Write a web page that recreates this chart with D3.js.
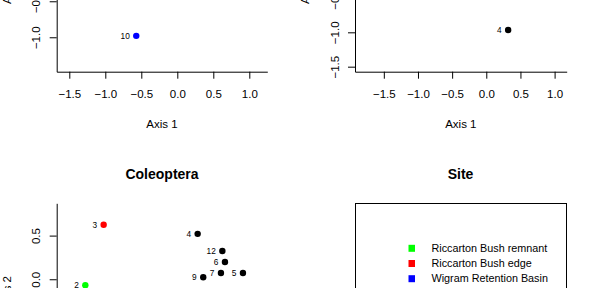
<!DOCTYPE html>
<html>
<head>
<meta charset="utf-8">
<script src="https://cdn.jsdelivr.net/npm/d3@7"></script>
<style>
body { margin: 0; background: #fff; }
svg { display: block; }
text { font-family: "Liberation Sans", Arial, sans-serif; }
</style>
</head>
<body>
<svg width="593" height="288"></svg>
<script>
// panel A (top left) - only the lowest site shows
var labelsA = ["10"];
var axis1A = [-0.57];
var axis2A = [-0.98];
var siteA = ["Wigram Retention Basin"];

// panel B (top right)
var labelsB = ["4"];
var axis1B = [0.32];
var axis2B = [-0.966];
var siteB = ["other"];

// Coleoptera (bottom left)
var labelsC = ["3", "4", "12", "6", "7", "5", "9", "2"];
var axis1C = [-0.76, 0.317, 0.60, 0.63, 0.584, 0.836, 0.381, -0.97];
var axis2C = [0.625, 0.52, 0.324, 0.198, 0.072, 0.072, 0.023, -0.069];
var siteC = ["Riccarton Bush edge", "other", "other", "other", "other", "other", "other", "Riccarton Bush remnant"];

var xTicks = [-1.5, -1, -0.5, 0, 0.5, 1];
var yTicks = [-1.5, -1, -0.5, 0, 0.5];

var siteNames = ["Riccarton Bush remnant", "Riccarton Bush edge", "Wigram Retention Basin"];
var siteColours = ["#00ff00", "#ff0000", "#0000ff"];

var colour = d3.scaleOrdinal().domain(siteNames).range(siteColours).unknown("#000");
var fmt = d3.format(".1f");

var svg = d3.select("svg");

// draw one ordination panel: L shaped box, ticks, labels, points
function drawPanel(x, y, labels, ax1, ax2, sites, title, showX){
    var g = svg.append("g");
    var xr = x.range(), yr = y.range();

    var xa = g.append("g")
        .attr("transform", "translate(0," + yr[0] + ")")
        .call(d3.axisBottom(x).tickValues(xTicks).tickFormat(fmt).tickSize(7).tickSizeOuter(0).tickPadding(11));
    var ya = g.append("g")
        .attr("transform", "translate(" + xr[0] + ",0)")
        .call(d3.axisLeft(y).tickValues(yTicks.filter(function(t){ return t >= y.domain()[0]; }))
              .tickFormat(fmt).tickSize(7).tickSizeOuter(0));

    [xa, ya].forEach(function(a){
        a.attr("font-family", null).attr("font-size", null);
        a.selectAll("path, line").attr("stroke", "#000").attr("stroke-width", 1);
        a.selectAll("text").attr("fill", "#000").style("font-size", "11.5px");
    });
    ya.selectAll("text")
        .attr("transform", "rotate(-90)")
        .attr("x", 0).attr("y", -16.5).attr("dy", 0)
        .attr("text-anchor", "middle");

    if(showX){
        g.append("text")
            .attr("x", (xr[0] + xr[1]) / 2).attr("y", yr[0] + 55.8)
            .attr("text-anchor", "middle").style("font-size", "11.5px")
            .text("Axis 1");
    }
    g.append("text")
        .attr("transform", "translate(" + (xr[0] - 46) + "," + (yr[0] + yr[1]) / 2 + ")rotate(-90)")
        .attr("text-anchor", "middle").style("font-size", "11.5px")
        .text("Axis 2");

    if(title){
        g.append("text")
            .attr("x", (xr[0] + xr[1]) / 2).attr("y", yr[1] - 24.5)
            .attr("text-anchor", "middle").style("font-size", "14px").style("font-weight", "bold")
            .text(title);
    }

    var idx = d3.range(labels.length);
    g.selectAll(".pt").data(idx).enter().append("circle")
        .attr("class", "pt")
        .attr("cx", function(i){ return x(ax1[i]); })
        .attr("cy", function(i){ return y(ax2[i]); })
        .attr("r", 3.2)
        .attr("fill", function(i){ return colour(sites[i]); });
    g.selectAll(".lab").data(idx).enter().append("text")
        .attr("class", "lab")
        .attr("x", function(i){ return x(ax1[i]) - 6.5; })
        .attr("y", function(i){ return y(ax2[i]); })
        .attr("dy", "0.35em")
        .attr("text-anchor", "end")
        .style("font-size", "8.3px")
        .text(function(i){ return labels[i]; });
}

// panel scales (plots are bigger than the window, only a part shows)
var xA = d3.scaleLinear().domain([-1.675, 1.25]).range([56.7, 267.3]);
var yA = d3.scaleLinear().domain([-1.478, 0.837]).range([71.7, -95]);
drawPanel(xA, yA, labelsA, axis1A, axis2A, siteA, null, true);

var xB = d3.scaleLinear().domain([-1.922, 1.177]).range([355, 566.7]);
var yB = d3.scaleLinear().domain([-1.573, 0.853]).range([71.7, -95]);
drawPanel(xB, yB, labelsB, axis1B, axis2B, siteB, null, true);

var xC = d3.scaleLinear().domain([-1.298, 1.115]).range([56.7, 267.3]);
var yC = d3.scaleLinear().domain([-1.154, 0.87]).range([380, 203.3]);
drawPanel(xC, yC, labelsC, axis1C, axis2C, siteC, "Coleoptera", false);

// site legend panel
svg.append("text")
    .attr("x", 460.5).attr("y", 179)
    .attr("text-anchor", "middle").style("font-size", "14px").style("font-weight", "bold")
    .text("Site");
svg.append("rect")
    .attr("x", 355.5).attr("y", 203.5).attr("width", 211).attr("height", 200)
    .attr("fill", "none").attr("stroke", "#000");

var leg = svg.append("g").selectAll("g").data(siteNames).enter().append("g")
    .attr("transform", function(d, i){ return "translate(0," + (248.3 + i * 15.2) + ")"; });
leg.append("rect")
    .attr("x", 408.5).attr("y", -3.5).attr("width", 6.5).attr("height", 7)
    .attr("fill", function(d){ return colour(d); });
leg.append("text")
    .attr("x", 431.5).attr("dy", "0.35em")
    .style("font-size", "10.8px")
    .text(function(d){ return d; });
</script>
</body>
</html>
